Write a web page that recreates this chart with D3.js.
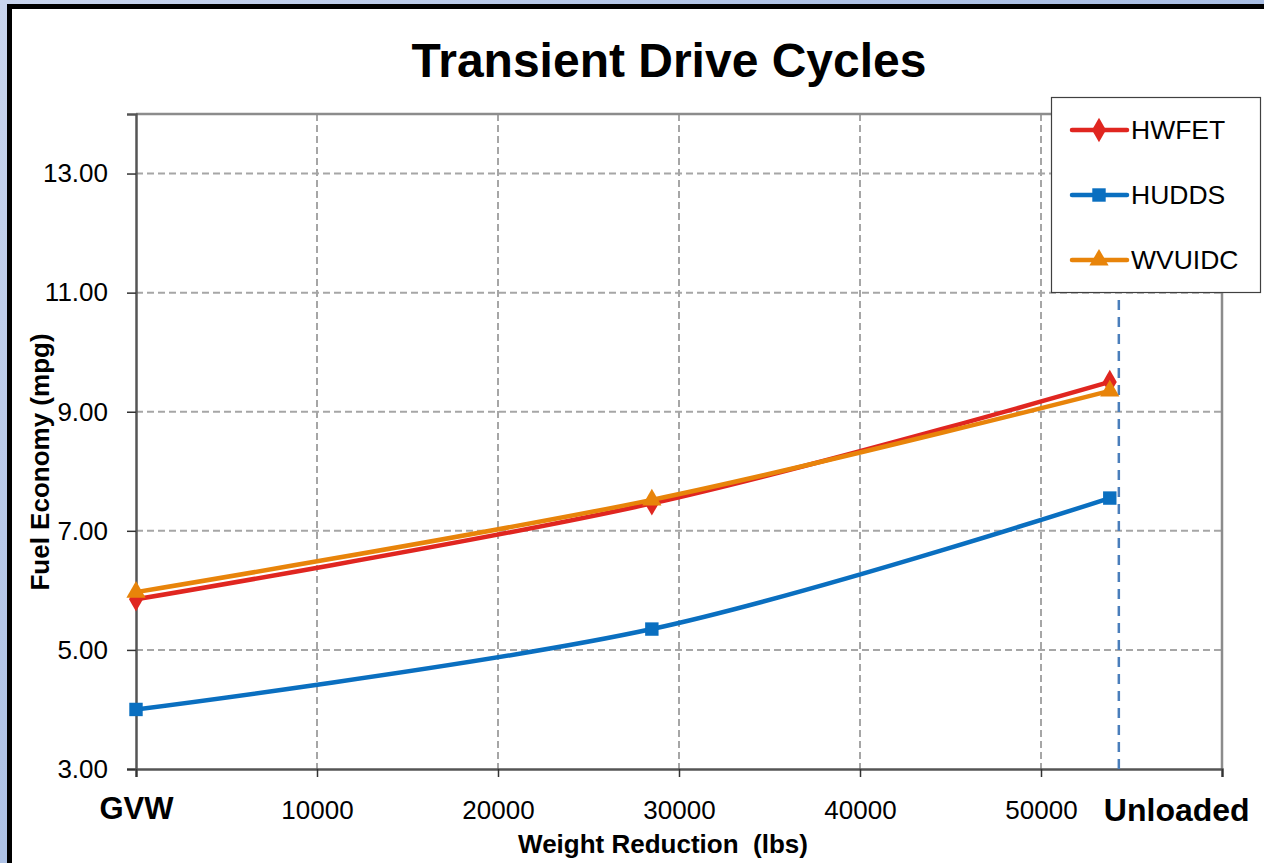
<!DOCTYPE html>
<html>
<head>
<meta charset="utf-8">
<script src="https://cdn.jsdelivr.net/npm/d3@7"></script>
<style>
  html, body { margin: 0; padding: 0; }
  body { width: 1264px; height: 863px; overflow: hidden;
         background: linear-gradient(135deg, #c9d5ee 0%, #aec2e6 40%, #9fb6e0 100%); }
  svg { display: block; }
  text { font-family: Arial, "Liberation Sans", sans-serif; white-space: pre; }
</style>
</head>
<body>
<svg id="chart" width="1264" height="863"></svg>
<script>
// ---- data ----
const title = "Transient Drive Cycles";
const xTitle = "Weight Reduction  (lbs)";
const yTitle = "Fuel Economy (mpg)";
const seriesNames = ["HWFET", "HUDDS", "WVUIDC"];
const seriesColors = ["#e02620", "#0a6fc0", "#e8840a"];
const xValues = [0, 28500, 53800];
const hwfet = [5.85, 7.46, 9.50];
const hudds = [4.00, 5.35, 7.55];
const wvuidc = [5.97, 7.52, 9.35];
const xTicks = [0, 10000, 20000, 30000, 40000, 50000, 60000];
const xTickLabels = ["GVW", "10000", "20000", "30000", "40000", "50000", ""];
const yTicks = [3, 5, 7, 9, 11, 13];
const yTickLabels = ["3.00", "5.00", "7.00", "9.00", "11.00", "13.00"];
const unloadedLabel = "Unloaded";
const unloadedLabelX = 57500;
const unloadedLineX = 54300;

const seriesData = [hwfet, hudds, wvuidc];
const markerTypes = [d3.symbolDiamond, d3.symbolSquare, d3.symbolTriangle];
const markerSizes = [170, 180, 160];

const svg = d3.select("#chart");

// white frame with black border
svg.append("rect").attr("x", 9.5).attr("y", 6.5).attr("width", 1300).attr("height", 900)
  .attr("fill", "#fff").attr("stroke", "#000").attr("stroke-width", 5);

const plot = { left: 136, top: 114, right: 1222, bottom: 769 };
const x = d3.scaleLinear().domain([0, 60000]).range([plot.left, plot.right]);
const y = d3.scaleLinear().domain([3, 14]).range([plot.bottom, plot.top]);

// gridlines
const grid = svg.append("g");
grid.selectAll("line.h").data(yTicks.filter(v => v > 3)).join("line")
  .attr("x1", plot.left).attr("x2", plot.right)
  .attr("y1", d => y(d)).attr("y2", d => y(d))
  .attr("stroke", "#a6a6a6").attr("stroke-width", 2).attr("stroke-dasharray", "7,4");
grid.selectAll("line.v").data(xTicks.filter(v => v > 0 && v < 60000)).join("line")
  .attr("x1", d => x(d)).attr("x2", d => x(d))
  .attr("y1", plot.top).attr("y2", plot.bottom)
  .attr("stroke", "#a6a6a6").attr("stroke-width", 2).attr("stroke-dasharray", "7,4");

// plot border top/right
svg.append("path")
  .attr("d", `M${plot.left},${plot.top}H${plot.right}V${plot.bottom}`)
  .attr("fill", "none").attr("stroke", "#8c8c8c").attr("stroke-width", 2.5);

// axes
const yAxis = d3.axisLeft(y).tickValues(yTicks).tickSize(9).tickFormat((d, i) => yTickLabels[i]);
const gy = svg.append("g").attr("transform", `translate(${plot.left},0)`).call(yAxis);
gy.select(".domain").attr("stroke", "#555").attr("stroke-width", 2.5);
gy.selectAll(".tick line").attr("stroke", "#333").attr("stroke-width", 1.5);
gy.selectAll(".tick text").attr("font-size", 26).attr("fill", "#000")
  .attr("font-family", "Arial, 'Liberation Sans', sans-serif").attr("x", -28);

const xAxis = d3.axisBottom(x).tickValues(xTicks).tickSize(8).tickFormat((d, i) => xTickLabels[i]);
const gx = svg.append("g").attr("transform", `translate(0,${plot.bottom})`).call(xAxis);
gx.select(".domain").attr("stroke", "#555").attr("stroke-width", 2.5);
gx.selectAll(".tick line").attr("stroke", "#333").attr("stroke-width", 1.5);
gx.selectAll(".tick text").attr("fill", "#000")
  .attr("font-family", "Arial, 'Liberation Sans', sans-serif")
  .attr("y", 50).attr("dy", 0)
  .attr("font-weight", (d, i) => i === 0 ? "bold" : "normal")
  .attr("font-size", (d, i) => i === 0 ? 31 : 26);

svg.append("text").attr("x", x(unloadedLabelX)).attr("y", plot.bottom + 52)
  .attr("text-anchor", "middle").attr("font-size", 32).attr("font-weight", "bold")
  .text(unloadedLabel);

// vertical dashed "unloaded" line
svg.append("line").attr("x1", x(unloadedLineX)).attr("x2", x(unloadedLineX))
  .attr("y1", 215).attr("y2", plot.bottom)
  .attr("stroke", "#4a7ebb").attr("stroke-width", 2.5).attr("stroke-dasharray", "10,7");

// series lines
const line = d3.line().x((d, i) => x(xValues[i])).y(d => y(d)).curve(d3.curveCatmullRom.alpha(0));
const order = [1, 0, 2];
order.forEach(si => {
  svg.append("path").datum(seriesData[si]).attr("d", line)
    .attr("fill", "none").attr("stroke", seriesColors[si]).attr("stroke-width", 4.5);
});
order.forEach(si => {
  svg.append("g").selectAll("path").data(seriesData[si]).join("path")
    .attr("transform", (d, i) => `translate(${x(xValues[i])},${y(d)})`)
    .attr("d", d3.symbol().type(markerTypes[si]).size(markerSizes[si]))
    .attr("fill", seriesColors[si]);
});

// titles
svg.append("text").attr("x", 669).attr("y", 77).attr("text-anchor", "middle")
  .attr("font-size", 48).attr("font-weight", "bold").text(title);
svg.append("text").attr("x", 663).attr("y", 853).attr("text-anchor", "middle")
  .attr("font-size", 26).attr("font-weight", "bold").text(xTitle);
svg.append("text").attr("transform", "translate(49,462) rotate(-90)")
  .attr("text-anchor", "middle").attr("font-size", 26).attr("font-weight", "bold").text(yTitle);

// legend
const lg = svg.append("g");
lg.append("rect").attr("x", 1051.5).attr("y", 97.5).attr("width", 209).attr("height", 195)
  .attr("fill", "#fff").attr("stroke", "#404040").attr("stroke-width", 1.2);
const legendY = [130, 195, 260];
seriesNames.forEach((name, si) => {
  lg.append("line").attr("x1", 1072).attr("x2", 1127).attr("y1", legendY[si]).attr("y2", legendY[si])
    .attr("stroke", seriesColors[si]).attr("stroke-width", 4.5).attr("stroke-linecap", "round");
  lg.append("path").attr("transform", `translate(1099,${legendY[si]})`)
    .attr("d", d3.symbol().type(markerTypes[si]).size(markerSizes[si])).attr("fill", seriesColors[si]);
  lg.append("text").attr("x", 1131).attr("y", legendY[si]).attr("dy", "0.35em")
    .attr("font-size", 26.5).text(name);
});
</script>
</body>
</html>
